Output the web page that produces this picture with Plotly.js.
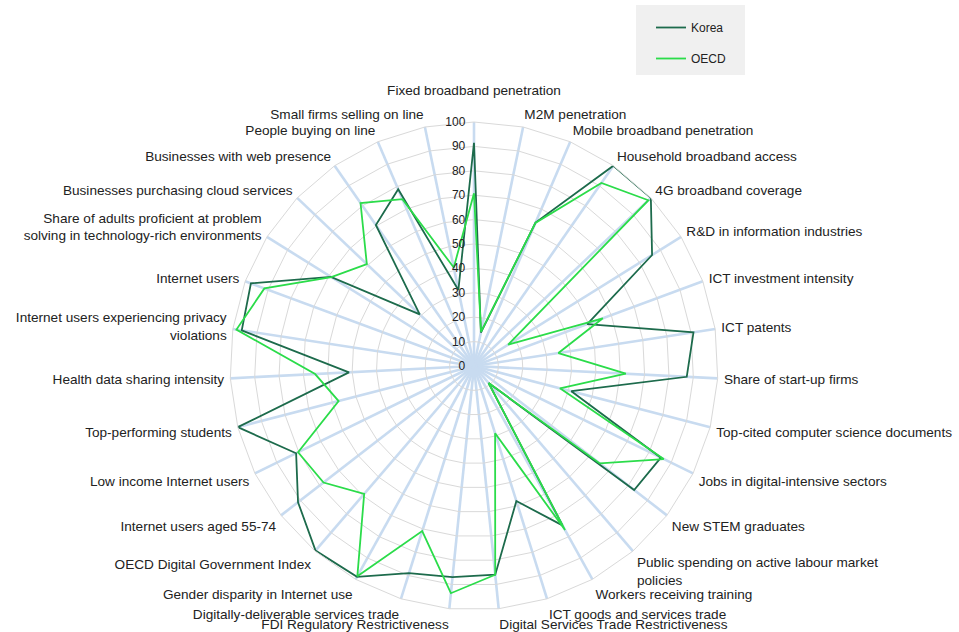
<!DOCTYPE html>
<html>
<head>
<meta charset="utf-8">
<script src="https://cdn.plot.ly/plotly-3.0.1.min.js"></script>
<style>
  html, body { margin: 0; padding: 0; background: #ffffff; }
  #chart { width: 959px; height: 632px; }
</style>
</head>
<body>
<div id="chart"></div>
<script>
// ---- Data ----
const categories = [
  "Fixed broadband penetration<br>\u00a0",
  "M2M penetration",
  "Mobile broadband penetration",
  "Household broadband access",
  "4G broadband coverage",
  "R&D in information industries",
  "ICT investment intensity",
  "ICT patents",
  "Share of start-up firms",
  "Top-cited computer science documents",
  "Jobs in digital-intensive sectors",
  "New STEM graduates",
  "Public spending on active labour market<br>policies",
  "Workers receiving training",
  "ICT goods and services trade",
  "Digital Services Trade Restrictiveness",
  "FDI Regulatory Restrictiveness",
  "Digitally-deliverable services trade",
  "Gender disparity in Internet use",
  "OECD Digital Government Index",
  "Internet users aged 55-74",
  "Low income Internet users",
  "Top-performing students",
  "Health data sharing intensity",
  "Internet users experiencing privacy<br>violations",
  "Internet users",
  "Share of adults proficient at problem<br>solving in technology-rich environments",
  "Businesses purchasing cloud services",
  "Businesses with web presence",
  "People buying on line",
  "Small firms selling on line"
];

const korea = [91.5, 14, 64, 100, 100, 86, 49.5, 91, 87.3, 41.2, 85.3, 83, 9.2, 74.7, 58, 86,
               87, 89, 98.8, 99.7, 91.2, 81.2, 100, 51.3, 96.3, 97.5, 69.1, 30.7, 70.4, 78.8, 31.8];
const oecd  = [70.8, 14.3, 63.8, 91.4, 98.6, 16.5, 56.3, 35, 62.3, 36.4, 86.6, 65.2, 9.2, 76.9, 28.9, 86,
               93.6, 70.9, 98.5, 69.1, 78, 80.3, 57.3, 65.2, 98.5, 91.6, 68.9, 60.6, 81.4, 74.4, 41.2];

const radialTicks = [0, 10, 20, 30, 40, 50, 60, 70, 80, 90, 100];

const seriesNames = ["Korea", "OECD"];
const seriesColors = ["#1d6b4c", "#2bdc4a"];

// close the loops
function closed(arr) { return arr.concat([arr[0]]); }
const thetaClosed = closed(categories);

const traces = [korea, oecd].map((vals, i) => ({
  type: "scatterpolar",
  mode: "lines",
  r: closed(vals),
  theta: thetaClosed,
  name: seriesNames[i],
  legendgroup: "g" + i,
  line: { color: seriesColors[i], width: 1.8 },
  hoverinfo: "skip"
}));

const W = 959, H = 632, CX = 474, CY = 366, R = 244;

const layout = {
  width: W,
  height: H,
  margin: { l: 0, r: 0, t: 0, b: 0 },
  paper_bgcolor: "#ffffff",
  font: { family: "Liberation Sans, Arial, sans-serif", color: "#222222", size: 13.6 },
  showlegend: true,
  legend: {
    x: 651 / W, xanchor: "left",
    y: 1 - 13 / H, yanchor: "top",
    bgcolor: "rgba(0,0,0,0)",
    font: { size: 12, color: "#222222" },
    tracegroupgap: 12
  },
  shapes: [{
    type: "rect", xref: "paper", yref: "paper", layer: "below",
    x0: 636 / W, x1: 745 / W, y0: 1 - 75 / H, y1: 1 - 5 / H,
    fillcolor: "#f0f0f0", line: { width: 0 }
  }],
  polar: {
    domain: { x: [(CX - R) / W, (CX + R) / W], y: [1 - (CY + R) / H, 1 - (CY - R) / H] },
    bgcolor: "rgba(0,0,0,0)",
    gridshape: "linear",
    angularaxis: {
      type: "category",
      categoryorder: "array",
      categoryarray: categories,
      direction: "clockwise",
      rotation: 90,
      showline: true,
      linecolor: "#d9d9d9",
      linewidth: 1,
      showgrid: true,
      gridcolor: "#c8dbf0",
      gridwidth: 2.6,
      ticks: "outside",
      ticklen: 3,
      tickcolor: "rgba(0,0,0,0)",
      tickfont: { size: 13.6, color: "#222222" }
    },
    radialaxis: {
      range: [0, 100],
      tickvals: radialTicks,
      ticktext: radialTicks.map(String),
      angle: 90,
      side: "counterclockwise",
      tickangle: 90,
      showline: false,
      ticks: "outside",
      ticklen: 4,
      tickcolor: "rgba(0,0,0,0)",
      showgrid: true,
      gridcolor: "#d9d9d9",
      gridwidth: 1,
      tickfont: { size: 12, color: "#222222" }
    }
  }
};

Plotly.newPlot("chart", traces, layout, { displayModeBar: false, staticPlot: true });
</script>
</body>
</html>
